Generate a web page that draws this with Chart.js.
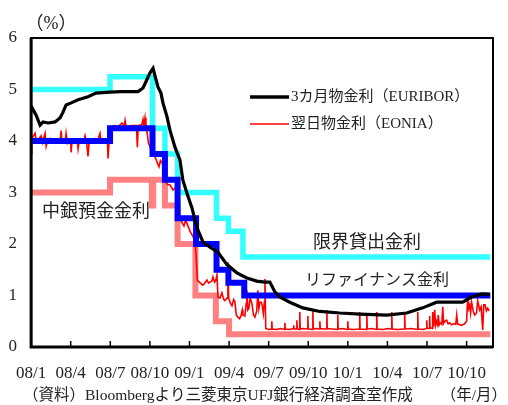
<!DOCTYPE html>
<html>
<head>
<meta charset="utf-8">
<script src="https://cdn.jsdelivr.net/npm/chart.js@4.4.0/dist/chart.umd.min.js"></script>
<style>
  html, body { margin: 0; padding: 0; background: #fff; }
  #wrap { width: 508px; height: 405px; }
</style>
</head>
<body>
<div id="wrap"><canvas id="myChart"></canvas></div>
<script>
// x values are months counted from 2008/1 (0 = start of Jan 2008)
const tickMonths = [0, 3, 6, 9, 12, 15, 18, 21, 24, 27, 30, 33];
const tickLabels = ['08/1', '08/4', '08/7', '08/10', '09/1', '09/4', '09/7', '09/10', '10/1', '10/4', '10/7', '10/10'];

// 限界貸出金利
const mlfT = [0, 5.98, 9.2, 10.14, 11.1, 14.05, 14.95, 16.05, 34.8];
const mlfV = [5.00, 5.25, 4.25, 3.75, 3.00, 2.50, 2.25, 1.75, 1.75];
// リファイナンス金利
const mroT = [0, 5.98, 9.2, 10.14, 11.1, 12.5, 14.05, 14.95, 16.15, 34.8];
const mroV = [4.00, 4.25, 3.75, 3.25, 2.50, 2.00, 1.50, 1.25, 1.00, 1.00];
// 中銀預金金利
const dfT = [0, 5.98, 9.15, 9.25, 10.14, 11.1, 12.45, 14.0, 15.0, 34.8];
const dfV = [3.00, 3.25, 2.75, 3.25, 2.75, 2.00, 1.00, 0.50, 0.25, 0.25];

// 3カ月物金利(EURIBOR)
const euriborT = [0, 0.38, 0.68, 0.91, 1.29, 1.82, 2.2, 2.4, 2.65, 3.03, 3.56, 4.31, 4.92, 5.98, 6.81, 8.1,
  8.48, 8.7, 9.0, 9.24, 9.61, 9.84, 9.99, 10.3, 10.52, 10.9, 11.28, 11.5, 11.88, 12.19, 12.41, 12.64,
  13.02, 13.55, 14.16, 14.84, 15.59, 16.35, 17.1, 17.71, 18.09, 18.47, 18.85, 19.6, 20.59, 21.88,
  23.39, 24.9, 26.95, 28.46, 29.67, 30.73, 32.7, 33.38, 34.14, 34.75];
const euriborV = [4.68, 4.50, 4.31, 4.37, 4.35, 4.37, 4.45, 4.55, 4.70, 4.74, 4.80, 4.86, 4.93, 4.95, 4.96, 4.96,
  5.03, 5.15, 5.32, 5.41, 5.05, 4.93, 4.74, 4.47, 4.21, 3.88, 3.63, 3.24, 2.93, 2.70, 2.47, 2.27,
  2.04, 1.94, 1.84, 1.60, 1.44, 1.34, 1.28, 1.26, 1.26, 1.07, 0.97, 0.87, 0.76, 0.69,
  0.66, 0.64, 0.62, 0.66, 0.76, 0.87, 0.87, 0.97, 1.03, 1.02];

// 翌日物金利(EONIA)
const eoniaT = [
  0.00, 0.05, 0.30, 0.40, 0.76, 0.85, 1.06, 1.14, 1.25, 1.44, 1.67, 2.04, 2.20, 2.27, 2.35, 2.60, 2.65, 2.75,
  3.00, 3.03, 3.10, 3.50, 3.56, 3.65, 4.02, 4.09, 4.20, 4.31, 4.40, 4.84, 5.00, 5.22, 5.30, 5.60, 5.78, 5.83,
  5.92, 6.05, 6.30, 6.59, 6.89, 7.05, 7.12, 7.20, 7.65, 7.98, 8.05, 8.12, 8.40, 8.48, 8.55, 8.63, 8.70, 8.80,
  8.90, 9.00, 9.10, 9.24, 9.35, 9.46, 9.60, 9.69, 9.80, 9.92, 10.05, 10.20, 10.35, 10.52, 10.75, 10.98, 11.13,
  11.25, 11.36, 11.58, 11.72, 11.81, 12.04, 12.26, 12.41, 12.50, 12.60,
  12.79, 13.00, 13.10, 13.32, 13.45, 13.55, 13.70, 13.78, 13.90, 14.00, 14.08, 14.16, 14.31, 14.46, 14.60,
  14.68, 14.85, 14.91, 14.97, 15.10, 15.22, 15.35, 15.44, 15.55, 15.67, 15.80, 15.90, 16.00, 16.05, 16.20,
  16.30, 16.35, 16.42, 16.50, 16.60, 16.73, 16.85, 16.96, 17.10, 17.18, 17.26, 17.34, 17.45, 17.52, 17.60,
  17.68, 17.72, 17.78,
  18.00, 18.21, 18.24, 18.27, 18.60, 18.90, 19.20, 19.23, 19.26, 19.60, 19.88, 19.90, 19.93, 20.11, 20.14,
  20.17, 20.33, 20.36, 20.39, 20.60, 20.94, 20.97, 21.00, 21.32, 21.35, 21.38, 21.60, 21.85, 21.88, 21.91,
  22.20, 22.38, 22.41, 22.44, 22.80, 23.21, 23.24, 23.27, 23.60, 23.97, 24.00, 24.03, 24.40, 24.87, 24.90,
  24.93, 25.41, 25.44, 25.47, 25.80, 26.16, 26.19, 26.22, 26.70, 27.00, 27.30, 27.33, 27.36, 27.80, 28.28,
  28.31, 28.34, 28.80, 29.27, 29.30, 29.33, 29.70, 29.95, 29.98, 30.01, 30.17, 30.20, 30.23, 30.40, 30.43,
  30.50, 30.58, 30.65, 30.73, 30.80, 30.85, 30.92, 31.00, 31.12, 31.19, 31.26, 31.35, 31.49, 31.60, 31.72,
  31.85, 32.00, 32.18, 32.25, 32.32, 32.60, 32.85, 33.00, 33.08, 33.15, 33.23, 33.30, 33.38, 33.50, 33.61,
  33.75, 33.84, 33.99, 34.10, 34.22, 34.30, 34.40, 34.50, 34.60, 34.70];
const eoniaV = [
  3.75, 4.05, 4.15, 3.98, 4.10, 3.97, 4.15, 3.90, 4.02, 4.05, 3.97, 4.02, 3.99, 4.20, 3.99, 4.02, 4.15, 3.95,
  3.99, 3.78, 4.00, 4.02, 3.85, 4.02, 4.00, 4.10, 3.99, 3.70, 4.00, 4.05, 3.98, 4.15, 3.98, 4.00, 4.05, 3.66,
  4.05, 4.28, 4.30, 4.28, 4.35, 4.28, 4.40, 4.28, 4.30, 4.30, 3.88, 4.30, 4.32, 4.42, 4.30, 4.45, 4.25, 4.15,
  3.95, 3.90, 3.80, 3.85, 3.70, 3.65, 3.55, 3.50, 3.62, 3.58, 3.45, 3.20, 3.15, 3.15, 3.05, 3.10, 2.95,
  2.55, 2.45, 2.35, 2.47, 2.40, 2.25, 2.15, 2.05, 1.80, 1.30,
  1.25, 1.20, 1.22, 1.30, 1.24, 1.26, 1.28, 1.36, 1.26, 1.30, 1.40, 0.97, 0.95, 1.05, 0.92,
  0.90, 0.95, 1.65, 0.95, 0.85, 0.80, 0.92, 0.88, 0.62, 0.58, 0.55, 0.60, 0.72, 0.62, 0.60,
  0.85, 1.10, 0.72, 0.75, 0.95, 0.85, 0.62, 0.58, 0.70, 1.10, 0.75, 0.87, 0.87, 0.80, 0.65,
  0.88, 1.32, 0.36,
  0.34, 0.35, 0.50, 0.35, 0.34, 0.36, 0.34, 0.47, 0.35, 0.34, 0.36, 0.42, 0.35, 0.35, 0.52,
  0.35, 0.34, 0.68, 0.35, 0.36, 0.35, 0.60, 0.35, 0.34, 0.70, 0.35, 0.36, 0.35, 0.50, 0.36,
  0.35, 0.35, 0.72, 0.36, 0.35, 0.34, 0.62, 0.35, 0.36, 0.34, 0.50, 0.35, 0.34, 0.35, 0.68,
  0.35, 0.34, 0.66, 0.35, 0.36, 0.34, 0.68, 0.35, 0.34, 0.36, 0.35, 0.68, 0.35, 0.34, 0.35,
  0.66, 0.35, 0.36, 0.34, 0.68, 0.35, 0.34, 0.36, 0.52, 0.36, 0.36, 0.60, 0.38, 0.36, 0.68,
  0.40, 0.72, 0.42, 0.50, 0.44, 0.62, 0.43, 0.47, 0.44, 0.78, 0.46, 0.50, 0.52, 0.45, 0.47,
  0.43, 0.45, 0.44, 0.62, 0.45, 0.42, 0.45, 0.50, 0.95, 0.75, 0.82, 0.66, 0.87, 0.70, 0.62,
  0.66, 0.90, 0.72, 0.78, 0.33, 0.82, 0.82, 0.70, 0.75, 0.70];

const serif = '"Liberation Serif", "Times New Roman", "Noto Sans CJK JP", serif';
const toXY = (t, v) => t.map((m, i) => ({ x: m, y: v[i] }));

const decor = {
  id: 'decor',
  afterDraw(chart) {
    const { ctx, chartArea: a, scales: { x } } = chart;
    ctx.save();
    // frame
    ctx.strokeStyle = '#000';
    ctx.lineWidth = 2;
    ctx.strokeRect(a.left, a.top, a.right - a.left, a.bottom - a.top);
    ctx.lineWidth = 3;
    ctx.beginPath();
    ctx.moveTo(a.left, a.top);
    ctx.lineTo(a.left, a.bottom);
    ctx.lineTo(a.right, a.bottom);
    ctx.stroke();
    // tick marks pointing into the plot
    ctx.lineWidth = 1.5;
    tickMonths.forEach(m => {
      const px = x.getPixelForValue(m);
      ctx.beginPath();
      ctx.moveTo(px, a.bottom);
      ctx.lineTo(px, a.bottom - 6);
      ctx.stroke();
    });
    // legend
    ctx.fillStyle = '#222';
    ctx.textBaseline = 'middle';
    ctx.lineWidth = 3.5;
    ctx.beginPath(); ctx.moveTo(250, 97); ctx.lineTo(289, 97); ctx.stroke();
    ctx.strokeStyle = '#ff0000';
    ctx.lineWidth = 1.5;
    ctx.beginPath(); ctx.moveTo(250, 124); ctx.lineTo(289, 124); ctx.stroke();
    ctx.font = '15px ' + serif;
    ctx.fillText('3カ月物金利（EURIBOR）', 291, 97);
    ctx.fillText('翌日物金利（EONIA）', 291, 124);
    // labels on the lines
    ctx.font = '18px ' + serif;
    ctx.fillText('中銀預金金利', 42, 212);
    ctx.fillText('限界貸出金利', 313, 243);
    ctx.font = '16px ' + serif;
    ctx.fillText('リファイナンス金利', 305, 281);
    // unit, source, axis note
    ctx.font = '18px ' + serif;
    ctx.textAlign = 'center';
    ctx.fillText('（%）', 51, 24);
    ctx.font = '15.5px ' + serif;
    ctx.textAlign = 'left';
    ctx.fillText('（資料）Bloombergより三菱東京UFJ銀行経済調査室作成', 23, 396);
    ctx.textAlign = 'right';
    ctx.fillText('（年/月）', 507, 396);
    ctx.restore();
  }
};

const ctx = document.getElementById('myChart').getContext('2d');
new Chart(ctx, {
  type: 'line',
  data: {
    datasets: [
      { label: '3カ月物金利(EURIBOR)', data: toXY(euriborT, euriborV), borderColor: '#000000', borderWidth: 3.2 },
      { label: 'リファイナンス金利', data: toXY(mroT, mroV), borderColor: '#0000ff', borderWidth: 6, stepped: true },
      { label: '翌日物金利(EONIA)', data: toXY(eoniaT, eoniaV), borderColor: '#ff0000', borderWidth: 1.6 },
      { label: '限界貸出金利', data: toXY(mlfT, mlfV), borderColor: '#33ffff', borderWidth: 5.5, stepped: true },
      { label: '中銀預金金利', data: toXY(dfT, dfV), borderColor: '#ff8080', borderWidth: 6, stepped: true }
    ]
  },
  options: {
    responsive: true,
    maintainAspectRatio: false,
    animation: false,
    layout: { padding: { left: 0, top: 38, right: 15, bottom: 0 } },
    elements: {
      point: { radius: 0 },
      line: { tension: 0, borderJoinStyle: 'miter', borderCapStyle: 'butt', fill: false }
    },
    plugins: { legend: { display: false }, tooltip: { enabled: false } },
    scales: {
      x: {
        type: 'linear',
        min: 0,
        max: 35,
        grid: { display: false, drawTicks: false },
        border: { display: false },
        afterBuildTicks: s => { s.ticks = tickMonths.map(v => ({ value: v })); },
        afterFit: s => { s.height = 58; },
        ticks: {
          padding: 16,
          color: '#222',
          maxRotation: 0,
          autoSkip: false,
          font: { family: serif, size: 17 },
          callback: (v, i) => tickLabels[i]
        }
      },
      y: {
        min: 0,
        max: 6,
        grid: { display: false, drawTicks: false },
        border: { display: false },
        afterFit: s => { s.width = 31; },
        ticks: { stepSize: 1, padding: 14, color: '#222', font: { family: serif, size: 17 } }
      }
    }
  },
  plugins: [decor]
});
</script>
</body>
</html>
